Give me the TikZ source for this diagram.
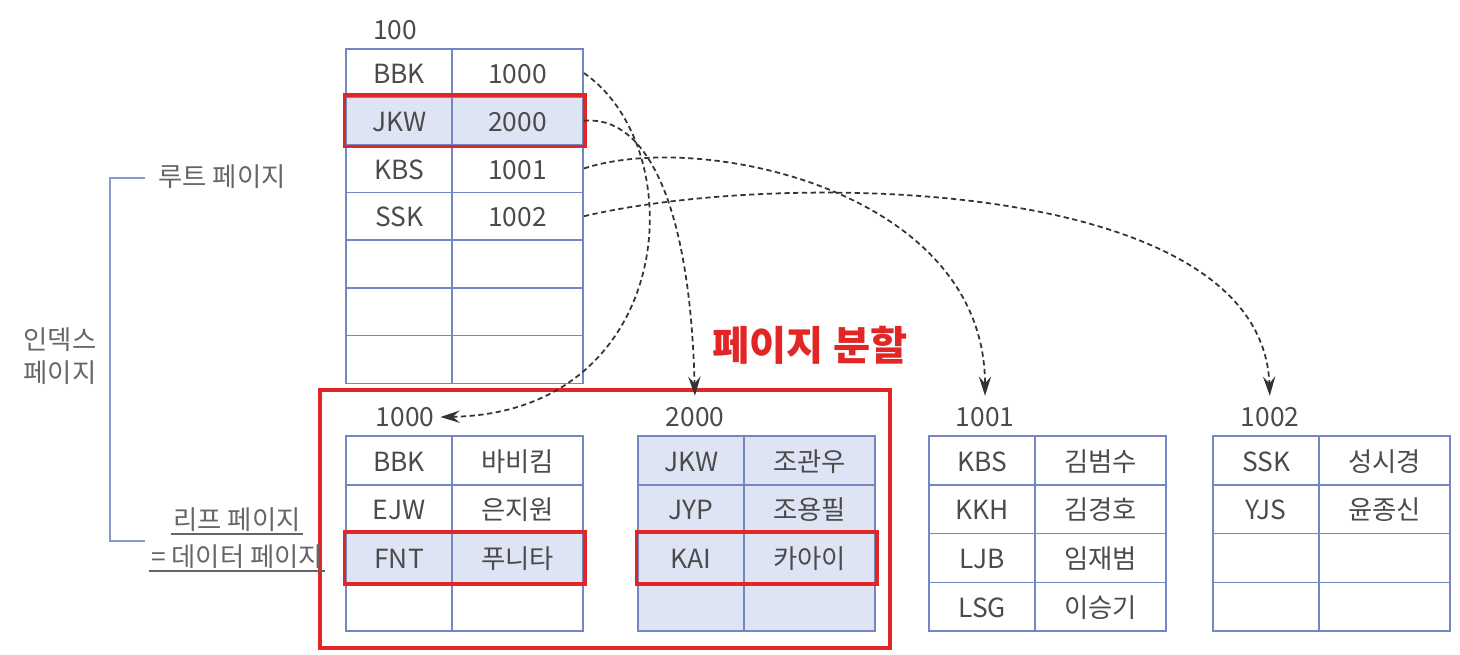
\documentclass[tikz,border=0pt]{standalone}
\usepackage{fontspec}
\setmainfont{Noto Sans CJK KR}
\usetikzlibrary{arrows.meta,positioning,fit,matrix}
\definecolor{cLine}{RGB}{115,135,195}
\definecolor{cCell}{RGB}{222,228,244}
\definecolor{cRed}{RGB}{226,38,38}
\definecolor{cText}{RGB}{75,75,75}
\definecolor{cBrk}{RGB}{140,152,205}
\tikzset{
  celltxt/.style={font=\fontsize{15}{18}\selectfont,text=cText},
  pagetbl/.style={matrix of nodes,nodes in empty cells,inner sep=0pt,
                  anchor=north west,column sep=-0.9pt,row sep=-0.9pt,
                  nodes={draw=cLine,line width=0.9pt,celltxt,inner sep=0pt,
                         text height=14pt,text depth=2pt,minimum height=#1},
                  column 1/.style={nodes={minimum width=2.12cm}},
                  column 2/.style={nodes={minimum width=2.62cm}}},
  hlrow/.style={nodes={fill=cCell}},
  pagelbl/.style={celltxt},
  sidelbl/.style={font=\fontsize{15}{19}\selectfont,text=cText!85,align=center},
  splitlbl/.style={font=\fontsize{23}{26}\selectfont\bfseries,text=cRed},
  redbox/.style={draw=cRed,line width=2pt},
  cellbox/.style={redbox,inner sep=0.6pt},
  ptrarr/.style={-{Stealth[length=11pt,width=7pt,inset=4pt]},dashed,
                 dash pattern=on 3pt off 2pt,line width=1pt,color=black!80},
  brk/.style={draw=cBrk,line width=0.9pt}
}
\begin{document}
\begin{tikzpicture}[x=0.02cm,y=-0.02cm]
  \useasboundingbox (0,0) rectangle (1460,654);
  % root page
  \node[pagelbl] (lbl100) at (395,30) {100};
  \matrix (root) [pagetbl=0.955cm,row 2/.style={hlrow}] at (345,48) {
    BBK & 1000 \\
    JKW & 2000 \\
    KBS & 1001 \\
    SSK & 1002 \\
        &      \\
        &      \\
        &      \\
  };
  \node[cellbox,fit=(root-2-1)(root-2-2)] (rootsel) {};

  % leaf pages
  \node[pagelbl] (lblA) at (405,417) {1000};
  \node[pagelbl] (lblB) at (695,417) {2000};
  \node[pagelbl] (lblC) at (985,417) {1001};
  \node[pagelbl] (lblD) at (1270,417) {1002};
  \matrix (leafA) [pagetbl=0.975cm,row 3/.style={hlrow}] at (345,435) {
    BBK & 바비킴 \\
    EJW & 은지원 \\
    FNT & 푸니타 \\
        &        \\
  };
  \matrix (leafB) [pagetbl=0.975cm,hlrow] at (637,435) {
    JKW & 조관우 \\
    JYP & 조용필 \\
    KAI & 카아이 \\
        &        \\
  };
  \matrix (leafC) [pagetbl=0.975cm] at (928,435) {
    KBS & 김범수 \\
    KKH & 김경호 \\
    LJB & 임재범 \\
    LSG & 이승기 \\
  };
  \matrix (leafD) [pagetbl=0.975cm] at (1212,435) {
    SSK & 성시경 \\
    YJS & 윤종신 \\
        &        \\
        &        \\
  };
  \node[cellbox,fit=(leafA-3-1)(leafA-3-2)] (selA) {};
  \node[cellbox,fit=(leafB-3-1)(leafB-3-2)] (selB) {};

  % split
  \draw[redbox] (320,390) rectangle (890,648);
  \node[splitlbl] (split) at (810,345) {페이지 분할};

  % pointers
  \draw[ptrarr] (root-1-2.east) .. controls (695,150) and (675,413) .. (lblA.east);
  \draw[ptrarr,shorten >=3pt] (root-2-2.east) .. controls (645,115) and (690,200) .. (lblB.north);
  \draw[ptrarr,shorten >=3pt] (root-3-2.east) .. controls (700,130) and (985,190) .. (lblC.north);
  \draw[ptrarr,shorten >=3pt] (root-4-2.east) .. controls (780,170) and (1262,175) .. (lblD.north);

  % side labels
  \node[sidelbl] (rootlbl) at (222,177) {루트 페이지};
  \node[sidelbl] (idxlbl) at (60,356) {인덱스\\페이지};
  \node[sidelbl,inner sep=1pt] (leaflbl) at (237,520) {리프 페이지};
  \node[sidelbl,inner sep=1pt] (datalbl) at (237,557) {= 데이터 페이지};
  \draw[brk] (145,178) -| (110,541) -- (145,541);
  \draw[cText!85,line width=0.8pt] (leaflbl.south west) -- (leaflbl.south east);
  \draw[cText!85,line width=0.8pt] (datalbl.south west) -- (datalbl.south east);
\end{tikzpicture}
\end{document}
